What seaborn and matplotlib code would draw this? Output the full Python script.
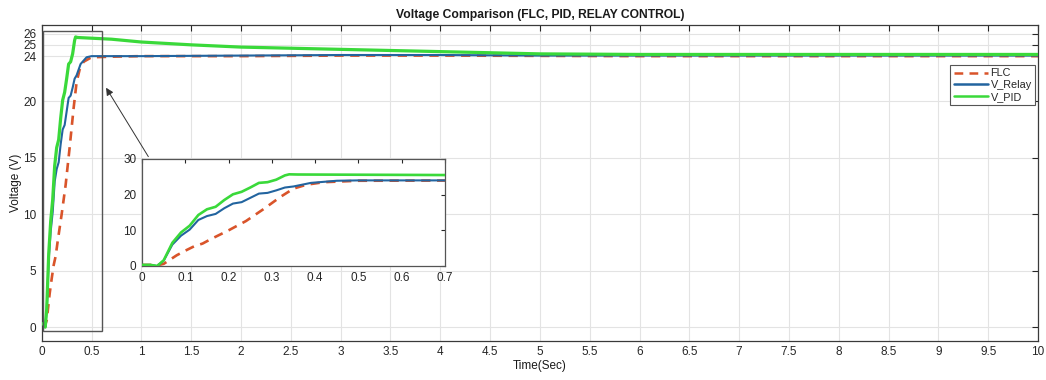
import numpy as np
import pandas as pd
import seaborn as sns
import matplotlib
matplotlib.use("Agg")
import matplotlib.pyplot as plt
from matplotlib.patches import Rectangle
from matplotlib.lines import Line2D

# ---- sampled controller responses (time in s, voltage in V) ----
t_flc = [0.0, 0.02, 0.035, 0.05, 0.08, 0.10, 0.12, 0.14, 0.16, 0.20, 0.24, 0.28,
         0.32, 0.35, 0.38, 0.42, 0.50, 0.70, 1.0, 2.0, 3.0, 4.0, 6.0, 8.0, 10.0]
v_flc = [0.3, 0.3, 0.2, 0.6, 3.0, 4.3, 5.5, 6.3, 7.6, 10.0, 12.6, 15.9,
         19.4, 21.7, 22.8, 23.5, 23.9, 23.95, 24.0, 24.0, 24.05, 24.05, 24.0, 24.0, 24.0]

t_relay = [0.0, 0.02, 0.035, 0.05, 0.07, 0.09, 0.11, 0.13, 0.15, 0.17, 0.19, 0.21,
           0.23, 0.25, 0.27, 0.29, 0.31, 0.33, 0.35, 0.39, 0.45, 0.50, 0.70, 1.0,
           2.0, 3.0, 4.0, 5.0, 6.0, 7.0, 8.0, 9.0, 10.0]
v_relay = [0.3, 0.3, 0.0, 1.5, 6.0, 8.5, 10.2, 12.9, 14.0, 14.6, 16.2, 17.5,
           17.9, 19.1, 20.3, 20.5, 21.2, 22.0, 22.3, 23.3, 23.9, 24.0, 24.0, 24.0,
           24.05, 24.1, 24.1, 24.05, 24.05, 24.05, 24.05, 24.05, 24.05]

t_pid = [0.0, 0.02, 0.035, 0.05, 0.07, 0.09, 0.11, 0.13, 0.15, 0.17, 0.19, 0.21,
         0.23, 0.25, 0.27, 0.29, 0.31, 0.33, 0.34, 0.36, 0.70, 1.0, 1.5, 2.0,
         2.5, 3.0, 3.5, 4.0, 4.5, 5.0, 6.0, 7.0, 8.0, 9.0, 10.0]
v_pid = [0.3, 0.3, 0.0, 1.6, 6.5, 9.4, 11.3, 14.3, 15.9, 16.6, 18.5, 20.1,
         20.8, 22.0, 23.3, 23.5, 24.2, 25.4, 25.7, 25.65, 25.5, 25.25, 25.0, 24.8,
         24.7, 24.6, 24.5, 24.4, 24.3, 24.2, 24.15, 24.15, 24.15, 24.15, 24.15]

series_names = ["FLC", "V_Relay", "V_PID"]
colors = {"FLC": "#d9542a", "V_Relay": "#22649f", "V_PID": "#3ad93a"}

df = pd.concat([
    pd.DataFrame({"t": t_flc, "v": v_flc, "series": "FLC"}),
    pd.DataFrame({"t": t_relay, "v": v_relay, "series": "V_Relay"}),
    pd.DataFrame({"t": t_pid, "v": v_pid, "series": "V_PID"}),
], ignore_index=True)

x_ticks = [0, 0.5, 1, 1.5, 2, 2.5, 3, 3.5, 4, 4.5, 5, 5.5, 6, 6.5, 7, 7.5, 8, 8.5, 9, 9.5, 10]
x_ticklabels = ["0", "0.5", "1", "1.5", "2", "2.5", "3", "3.5", "4", "4.5", "5", "5.5",
                "6", "6.5", "7", "7.5", "8", "8.5", "9", "9.5", "10"]
y_ticks = [0, 5, 10, 15, 20, 24, 25, 26]
inset_x_ticks = [0, 0.1, 0.2, 0.3, 0.4, 0.5, 0.6, 0.7]
inset_y_ticks = [0, 10, 20, 30]

sns.set_theme(style="white")
plt.rcParams["font.family"] = ["Liberation Sans", "DejaVu Sans"]
plt.rcParams["xtick.direction"] = "in"
plt.rcParams["ytick.direction"] = "in"

edge = "#3a3a3a"
fig = plt.figure(figsize=(10.46, 3.80), dpi=100)
ax = fig.add_axes([0.0399, 0.1034, 0.9525, 0.8306])


def draw_series(axis, pid_lw):
    styles = [("FLC", 1.9, 2), ("V_Relay", 1.5, 3), ("V_PID", pid_lw, 4)]
    for name, lw, z in styles:
        sub = df[df["series"] == name]
        ls = (0, (3.5, 2.5)) if name == "FLC" else "-"
        sns.lineplot(data=sub, x="t", y="v", ax=axis, color=colors[name],
                     linewidth=lw, linestyle=ls, zorder=z,
                     legend=False, estimator=None, sort=False)


draw_series(ax, 2.3)
ax.set_xlim(0, 10)
ax.set_ylim(-1.2, 26.75)
ax.set_xticks(x_ticks)
ax.set_xticklabels(x_ticklabels)
ax.set_yticks(y_ticks)
ax.tick_params(labelsize=8.5, colors="#262626", top=True, right=True,
               length=4, width=0.8, pad=4)
ax.grid(True, color="#e3e3e3", linewidth=0.8)
for s in ax.spines.values():
    s.set_color(edge)
    s.set_linewidth(0.9)
ax.set_title("Voltage Comparison (FLC, PID, RELAY CONTROL)", fontsize=8.7,
             fontweight="bold", pad=5, color="#1a1a1a")
ax.set_xlabel("Time(Sec)", fontsize=8.5, labelpad=1, color="#1a1a1a")
ax.set_ylabel("Voltage (V)", fontsize=8.5, labelpad=1, color="#1a1a1a")

# zoom window around the start-up transient
ax.add_patch(Rectangle((0.01, -0.3), 0.59, 26.5, fill=False,
                       edgecolor="#555555", linewidth=1.0, zorder=5))
ax.annotate("", xy=(0.646, 21.2), xytext=(1.07, 15.1),
            arrowprops=dict(arrowstyle="-|>", color="#333333", lw=0.7,
                            mutation_scale=11, shrinkA=0, shrinkB=0), zorder=6)

handles = [Line2D([], [], color=colors[n], linewidth=1.8,
                  linestyle=(0, (3.5, 2.5)) if n == "FLC" else "-")
           for n in series_names]
leg = ax.legend(handles, series_names, loc="upper right",
                bbox_to_anchor=(0.997, 0.873), fontsize=7.8, frameon=True,
                fancybox=False, edgecolor="#555555", framealpha=1,
                handlelength=3.2, handletextpad=0.2, borderpad=0.3,
                labelspacing=0.15, borderaxespad=0)
leg.get_frame().set_linewidth(0.8)

# inset with the first 0.7 s
axi = fig.add_axes([0.1358, 0.30, 0.2897, 0.2816])
draw_series(axi, 1.9)
axi.set_xlim(0, 0.7)
axi.set_ylim(0, 30)
axi.set_xticks(inset_x_ticks)
axi.set_xticklabels(["0", "0.1", "0.2", "0.3", "0.4", "0.5", "0.6", "0.7"])
axi.set_yticks(inset_y_ticks)
axi.set_xlabel("")
axi.set_ylabel("")
axi.set_facecolor("white")
axi.tick_params(labelsize=8.5, colors="#262626", top=True, right=True,
                length=3, width=0.8, pad=4)
for s in axi.spines.values():
    s.set_color("#555555")
    s.set_linewidth(0.9)

fig.savefig("out.png", dpi=100)
